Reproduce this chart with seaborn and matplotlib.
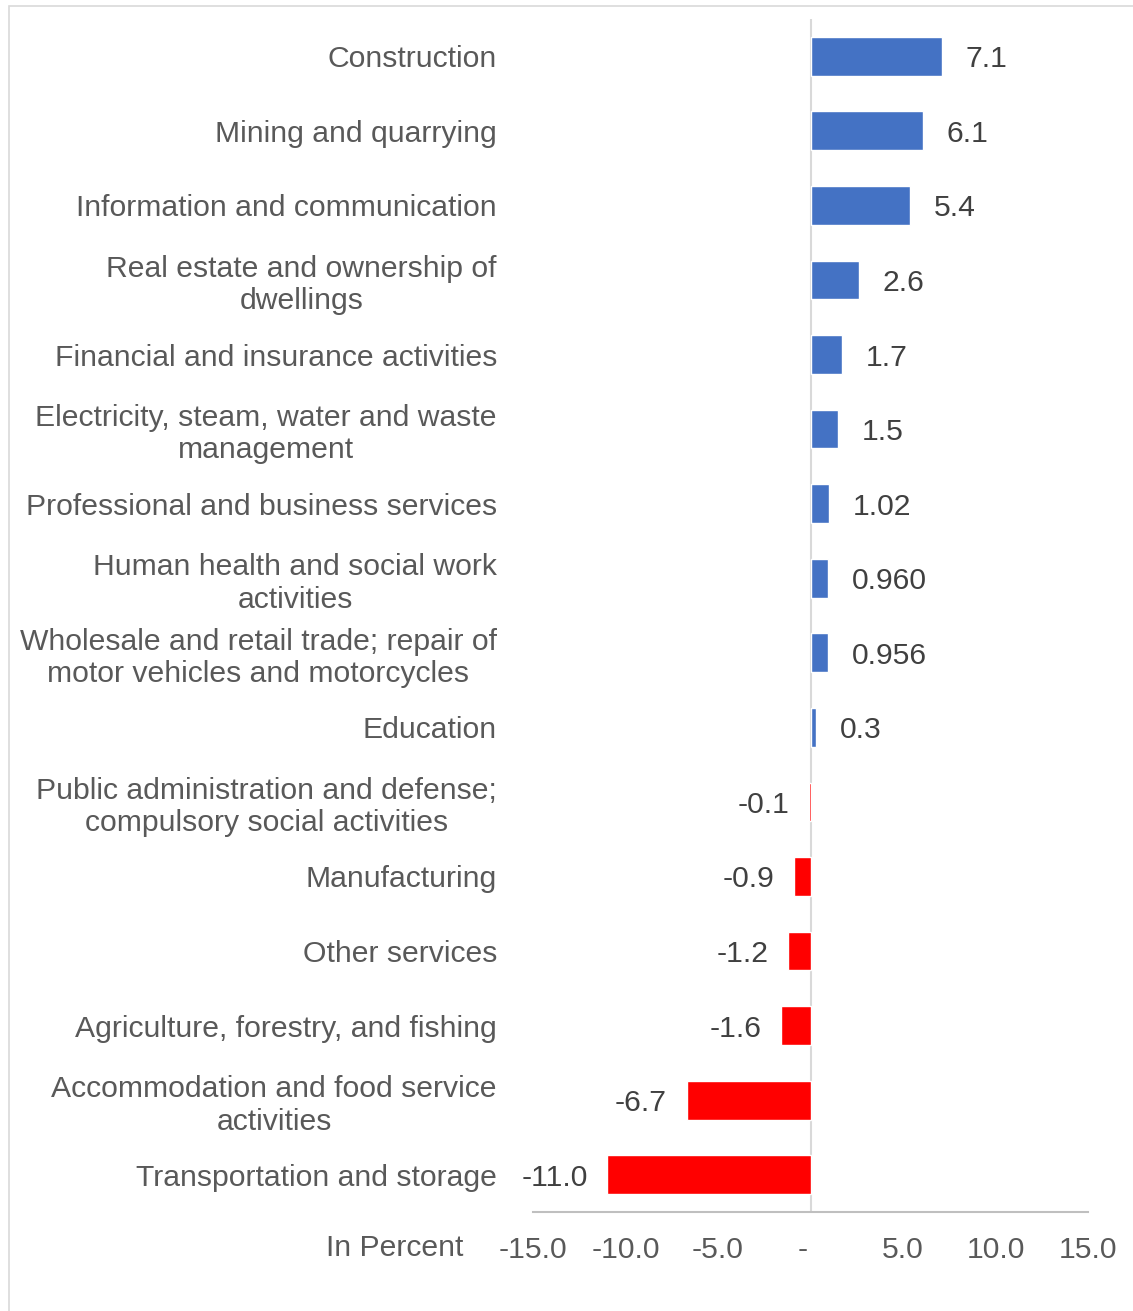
import matplotlib.pyplot as plt
import seaborn as sns
from matplotlib.patches import Rectangle
from matplotlib.transforms import ScaledTranslation

# data
categories = [
    "Construction",
    "Mining and quarrying",
    "Information and communication",
    "Real estate and ownership of\ndwellings",
    "Financial and insurance activities",
    "Electricity, steam, water and waste\nmanagement",
    "Professional and business services",
    "Human health and social work\nactivities",
    "Wholesale and retail trade; repair of\nmotor vehicles and motorcycles",
    "Education",
    "Public administration and defense;\ncompulsory social activities",
    "Manufacturing",
    "Other services",
    "Agriculture, forestry, and fishing",
    "Accommodation and food service\nactivities",
    "Transportation and storage",
]
values = [7.1, 6.1, 5.4, 2.6, 1.7, 1.5, 1.02, 0.960, 0.956, 0.3,
          -0.1, -0.9, -1.2, -1.6, -6.7, -11.0]
value_labels = ["7.1", "6.1", "5.4", "2.6", "1.7", "1.5", "1.02", "0.960", "0.956", "0.3",
                "-0.1", "-0.9", "-1.2", "-1.6", "-6.7", "-11.0"]
x_ticks = [-15, -10, -5, 0, 5, 10, 15]
x_tick_labels = ["-15.0", "-10.0", "-5.0", "-", "5.0", "10.0", "15.0"]

sns.set_style("white")
plt.rcParams['font.family'] = ['Liberation Sans', 'DejaVu Sans']

text_color = "#595959"
fs = 21.7
colors = ["#4472C4" if v >= 0 else "#FF0000" for v in values]

fig = plt.figure(figsize=(11.33, 13.11), dpi=100)
ax = fig.add_axes([533 / 1133, 1 - 1212 / 1311, (1088 - 533) / 1133, (1212 - 19) / 1311])

sns.barplot(x=values, y=categories, hue=categories, palette=colors, legend=False,
            orient="h", width=0.52, saturation=1, ax=ax)

ax.set_xlim(-15, 15)
ax.set_ylim(len(categories) - 0.5, -0.5)
ax.set_xticks(x_ticks)
ax.set_xticklabels(x_tick_labels, fontsize=fs, color=text_color)
ax.tick_params(axis="x", length=0, pad=17)
ax.tick_params(axis="y", length=0, pad=26, labelsize=fs, labelcolor=text_color)
for lbl in ax.get_yticklabels():
    lbl.set_multialignment("center")
# the accounting-style "-" for zero sits a little left of the zero line
zero_lbl = ax.get_xticklabels()[3]
zero_lbl.set_transform(zero_lbl.get_transform() + ScaledTranslation(-0.08, 0, fig.dpi_scale_trans))
ax.set_xlabel("")
ax.set_ylabel("")

# value labels
for i, (v, s) in enumerate(zip(values, value_labels)):
    if v >= 0:
        ax.annotate(s, (v, i), xytext=(17, 0), textcoords="offset points",
                    ha="left", va="center_baseline", fontsize=fs, color="#404040")
    else:
        ax.annotate(s, (v, i), xytext=(-14, 0), textcoords="offset points",
                    ha="right", va="center_baseline", fontsize=fs, color="#404040")

# axes lines: zero line and bottom axis only
for side in ["top", "right", "left"]:
    ax.spines[side].set_visible(False)
ax.spines["bottom"].set_color("#BFBFBF")
ax.spines["bottom"].set_linewidth(1.5)
ax.axvline(0, color="#D9D9D9", linewidth=1.5, zorder=0)

fig.text(463 / 1133, 1 - 1248 / 1311, "In Percent", ha="right", va="center",
         fontsize=fs, color=text_color)

# chart area border
fig.patches.append(Rectangle((9 / 1133, -0.01), 1.02, 1 - 6 / 1311 + 0.01,
                             transform=fig.transFigure, fill=False,
                             edgecolor="#D9D9D9", linewidth=1.2))

plt.savefig("out.png", dpi=100)
